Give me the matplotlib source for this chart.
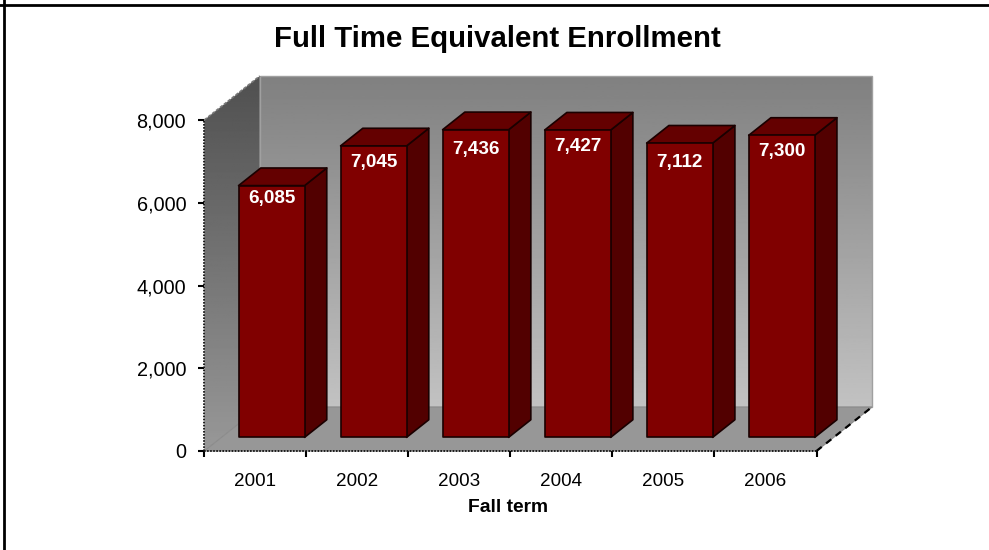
"""
Full Time Equivalent Enrollment, fake-3D column chart in the old Excel look.
"""

import numpy as np
import matplotlib
matplotlib.use("Agg")
import matplotlib.pyplot as plt
from matplotlib.lines import Line2D
from matplotlib.patches import Polygon
from matplotlib.ticker import FuncFormatter

plt.rcParams["font.family"] = ["Liberation Sans", "DejaVu Sans"]

years = ["2001", "2002", "2003", "2004", "2005", "2006"]
enrollment = [6085, 7045, 7436, 7427, 7112, 7300]
y_ticks = [0, 2000, 4000, 6000, 8000]

W, H = 989, 550
LEFT, RIGHT, TOP, BOTTOM = 204.3, 816.5, 120, 451
PX = 0.72  # points per pixel at dpi 100

# how far each value label sits below the top of its bar, in pixels
label_drop = [13, 16.5, 19.5, 16.5, 19, 16]

# depth of the box, in data units
DX = 55.5 / (RIGHT - LEFT) * len(years)
DY = 44 / (BOTTOM - TOP) * y_ticks[-1]

BAR_LEFT = 0.167
BAR_WIDTH = 0.647
BAR_D0, BAR_D1 = 0.31, 0.71


def skew(x, y, d):
    """Point x, y pushed d of the way into the box."""
    return (x + d * DX, y + d * DY)


def gradient_fill(ax, fig, corners, top_grey, bottom_grey):
    """Vertical grey gradient clipped to a polygon."""
    xs = [c[0] for c in corners]
    ys = [c[1] for c in corners]
    ramp = np.linspace(top_grey, bottom_grey, 256).reshape(-1, 1)
    im = ax.imshow(ramp, cmap="gray", vmin=0, vmax=1, aspect="auto", zorder=0,
                   extent=(min(xs), max(xs), min(ys), max(ys)))
    patch = Polygon(corners, closed=True, transform=ax.transData)
    im.set_clip_path(patch)
    im.set_clip_box(fig.bbox)


fig = plt.figure(figsize=(W / 100, H / 100), dpi=100)
ax = fig.add_axes([LEFT / W, 1 - BOTTOM / H, (RIGHT - LEFT) / W, (BOTTOM - TOP) / H])
ax.patch.set_visible(False)

n = len(years)
ymax = y_ticks[-1]

# walls and floor
back = [skew(0, 0, 1), skew(n, 0, 1), skew(n, ymax, 1), skew(0, ymax, 1)]
side = [(0, 0), skew(0, 0, 1), skew(0, ymax, 1), (0, ymax)]
floor = [(0, 0), (n, 0), skew(n, 0, 1), skew(0, 0, 1)]
gradient_fill(ax, fig, back, 0x80 / 255, 0xc2 / 255)
gradient_fill(ax, fig, side, 0x50 / 255, 0x98 / 255)
ax.add_patch(Polygon(back, closed=True, fill=False, ec="#a0a0a0", lw=1, clip_on=False, zorder=1))
ax.add_patch(Polygon(floor, closed=True, fc="#979797", ec="#8a8a8a", lw=0.8, clip_on=False, zorder=1))

# dashed depth edges
ax.plot(*zip((n, 0), skew(n, 0, 1)), color="black", lw=1.6, ls=(0, (3, 2.5)), clip_on=False, zorder=2)
ax.plot(*zip((0, ymax), skew(0, ymax, 1)), color="#777777", lw=1.2, ls=(0, (2, 1)), clip_on=False, zorder=2)

# bars
for i, value in enumerate(enrollment):
    x0 = i + BAR_LEFT
    x1 = x0 + BAR_WIDTH
    front = [skew(x0, 0, BAR_D0), skew(x1, 0, BAR_D0), skew(x1, value, BAR_D0), skew(x0, value, BAR_D0)]
    right = [skew(x1, 0, BAR_D0), skew(x1, 0, BAR_D1), skew(x1, value, BAR_D1), skew(x1, value, BAR_D0)]
    top = [skew(x0, value, BAR_D0), skew(x1, value, BAR_D0), skew(x1, value, BAR_D1), skew(x0, value, BAR_D1)]
    for corners, colour in ((right, "#520000"), (top, "#640000"), (front, "#800000")):
        ax.add_patch(Polygon(corners, closed=True, fc=colour, ec="#1a0000", lw=1.2,
                             joinstyle="round", clip_on=False, zorder=3))
    lx, ly = skew(x0 + BAR_WIDTH / 2, value, BAR_D0)
    ax.annotate(f"{value:,}", (lx, ly), xytext=(0, -label_drop[i] * PX), textcoords="offset points",
                ha="center", va="center", color="white", fontsize=13.6, fontweight="bold", zorder=4)

ax.set_xlim(0, n)
ax.set_ylim(0, ymax)

ax.set_yticks(y_ticks)
ax.yaxis.set_major_formatter(FuncFormatter(lambda v, pos: f"{int(v):,}"))
ax.set_xticks(np.arange(n) + 0.5)
ax.set_xticklabels(years)
ax.set_xticks(np.arange(n + 1), minor=True)
ax.tick_params(axis="x", which="major", length=0, pad=16.2, labelsize=13.6, colors="black")
ax.tick_params(axis="x", which="minor", length=4, width=1.5, direction="out")
ax.tick_params(axis="y", which="major", length=4.3, width=1.5, direction="out", pad=8.7, labelsize=14.3)

ax.spines["top"].set_visible(False)
ax.spines["right"].set_visible(False)
for name in ("left", "bottom"):
    ax.spines[name].set_linewidth(1.3)
    ax.spines[name].set_linestyle((0, (0.9, 0.8)))
    ax.spines[name].set_capstyle("butt")
    ax.spines[name].set_color("#111111")

ax.set_xlabel("Fall term", fontsize=13.9, fontweight="bold", labelpad=6, x=0.4965)

fig.text(497.5 / W, 1 - 39 / H, "Full Time Equivalent Enrollment", ha="center", va="center",
         fontsize=21.2, fontweight="bold")

# page frame
fig.add_artist(Line2D([0, 1], [1 - 5.3 / H] * 2, color="black", lw=2))
fig.add_artist(Line2D([3.9 / W] * 2, [0, 1], color="black", lw=2))

fig.savefig("out.png", dpi=100)
